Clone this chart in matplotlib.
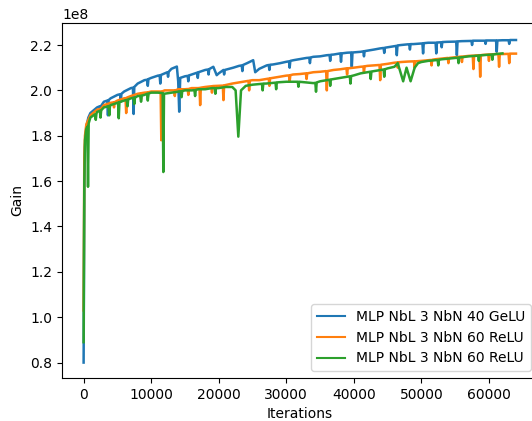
"""Gain vs iterations for three MLP runs."""

import matplotlib
matplotlib.use("Agg")
import matplotlib.pyplot as plt
import numpy as np

# values, gain in units of 1e8
iters_gelu40 = [0, 100, 200, 400, 700, 1000, 2000, 2400, 2500, 2600,
                3000, 3500, 3600, 3700, 4000, 5000, 5400, 5500, 5600, 6000,
                7000, 7300, 7400, 7500, 8000, 9000, 9400, 9500, 9600, 10000,
                11000, 11250, 11350, 11450, 12000, 12400, 12500, 12600, 13000, 13800,
                14000, 14150, 14300, 15000, 15400, 15500, 15600, 16000, 16800, 16900,
                17000, 18000, 18400, 18500, 18600, 19200, 19700, 20000, 20700, 20800,
                20900, 22150, 23000, 23400, 23500, 23600, 24200, 25100, 25400, 26000,
                27100, 27400, 27500, 27600, 28000, 29100, 30000, 30400, 30500, 30600,
                31060, 32000, 33000, 33400, 33500, 33600, 34000, 35000, 36000, 36400,
                36500, 36600, 37000, 38000, 38100, 38200, 39000, 39600, 39700, 39800,
                40200, 41000, 41400, 41500, 41600, 42000, 43000, 43900, 44400, 44500,
                44600, 45000, 46000, 46260, 46360, 46460, 47000, 48000, 48200, 48300,
                48400, 48800, 50000, 50150, 50250, 50350, 51000, 52100, 52200, 52300,
                52900, 53000, 53100, 53750, 55000, 55150, 55250, 55350, 56000, 57000,
                57400, 57500, 57600, 58700, 59400, 59500, 59600, 60000, 61050, 61150,
                61250, 62000, 62900, 63000, 63100, 64000]
gain_gelu40 = [0.80, 1.55, 1.75, 1.84, 1.88, 1.90, 1.925, 1.93, 1.91, 1.932,
               1.95, 1.955, 1.89, 1.957, 1.965, 1.98, 1.983, 1.95, 1.985, 1.995,
               2.01, 2.012, 1.896, 2.015, 2.03, 2.045, 2.047, 2.02, 2.05, 2.055,
               2.065, 2.066, 2.03, 2.068, 2.075, 2.08, 2.06, 2.082, 2.095, 2.105,
               2.04, 1.906, 2.055, 2.062, 2.064, 2.04, 2.066, 2.07, 2.078, 2.055,
               2.08, 2.09, 2.092, 2.07, 2.094, 2.104, 2.067, 2.075, 2.09, 2.07,
               2.09, 2.10, 2.108, 2.11, 2.085, 2.112, 2.12, 2.133, 2.08, 2.095,
               2.11, 2.112, 2.09, 2.113, 2.114, 2.12, 2.126, 2.128, 2.10, 2.13,
               2.133, 2.138, 2.143, 2.144, 2.12, 2.145, 2.148, 2.15, 2.155, 2.156,
               2.13, 2.157, 2.158, 2.163, 2.126, 2.163, 2.166, 2.167, 2.104, 2.167,
               2.168, 2.17, 2.172, 2.15, 2.173, 2.175, 2.18, 2.185, 2.187, 2.165,
               2.188, 2.19, 2.195, 2.196, 2.155, 2.198, 2.2, 2.203, 2.203, 2.18,
               2.204, 2.204, 2.207, 2.207, 2.163, 2.208, 2.21, 2.21, 2.163, 2.211,
               2.212, 2.19, 2.213, 2.214, 2.215, 2.215, 2.155, 2.216, 2.217, 2.218,
               2.218, 2.20, 2.219, 2.219, 2.219, 2.205, 2.22, 2.22, 2.22, 2.17,
               2.22, 2.221, 2.221, 2.205, 2.222, 2.222]

iters_relu60_a = [0, 100, 200, 400, 700, 1000, 2000, 2400, 2500, 2600,
                  3000, 4000, 4400, 4500, 4600, 5000, 6000, 6200, 6300, 6400,
                  7000, 8000, 8400, 8500, 8600, 9000, 9400, 9500, 9600, 10000,
                  11000, 11400, 11500, 11600, 12000, 13000, 13400, 13500, 13600, 14000,
                  15000, 15400, 15500, 15600, 16000, 17000, 17150, 17250, 17350, 18000,
                  18900, 19000, 19100, 20000, 20600, 20700, 20800, 22000, 23000, 24000,
                  24400, 24500, 24600, 25000, 26000, 27000, 27400, 27500, 27600, 28000,
                  29000, 30000, 30400, 30500, 30600, 31000, 32000, 32900, 33000, 33100,
                  34000, 35000, 35900, 36000, 36100, 37000, 38000, 38900, 39000, 39100,
                  40000, 41000, 41400, 41500, 41600, 42000, 43000, 43800, 43900, 44000,
                  45000, 46000, 46400, 46500, 46600, 47000, 48000, 48900, 49000, 49100,
                  50000, 51000, 51400, 51500, 51600, 52000, 53000, 53900, 54000, 54100,
                  55000, 55900, 56000, 56100, 57000, 57600, 57700, 57800, 58000, 58600,
                  58700, 58800, 59000, 59900, 60000, 60100, 61000, 61400, 61500, 61600,
                  62000, 62900, 63000, 63100, 64000]
gain_relu60_a = [1.03, 1.70, 1.80, 1.85, 1.87, 1.89, 1.915, 1.918, 1.90, 1.92,
                 1.935, 1.945, 1.947, 1.925, 1.948, 1.955, 1.965, 1.966, 1.90, 1.968,
                 1.975, 1.985, 1.987, 1.96, 1.988, 1.99, 1.991, 1.97, 1.992, 1.995,
                 1.995, 1.995, 1.78, 1.995, 2.0, 2.0, 2.0, 1.975, 2.0, 2.005,
                 2.005, 2.006, 1.98, 2.007, 2.01, 2.01, 2.011, 1.935, 2.012, 2.015,
                 2.018, 1.99, 2.019, 2.02, 2.021, 1.957, 2.022, 2.03, 2.035, 2.04,
                 2.042, 2.00, 2.043, 2.045, 2.045, 2.05, 2.052, 2.02, 2.053, 2.055,
                 2.06, 2.065, 2.066, 2.04, 2.067, 2.07, 2.072, 2.075, 2.05, 2.075,
                 2.08, 2.082, 2.085, 2.0, 2.085, 2.09, 2.093, 2.097, 2.07, 2.097,
                 2.10, 2.104, 2.105, 2.08, 2.106, 2.108, 2.11, 2.112, 2.045, 2.113,
                 2.117, 2.122, 2.123, 2.10, 2.124, 2.125, 2.127, 2.128, 2.10, 2.128,
                 2.13, 2.133, 2.134, 2.11, 2.135, 2.137, 2.14, 2.143, 2.12, 2.143,
                 2.146, 2.149, 2.125, 2.149, 2.152, 2.153, 2.094, 2.153, 2.154, 2.155,
                 2.06, 2.155, 2.156, 2.158, 2.13, 2.158, 2.16, 2.16, 2.104, 2.16,
                 2.16, 2.161, 2.12, 2.162, 2.162]

iters_relu60_b = [0, 100, 200, 400, 550, 650, 750, 1000, 1700, 1800,
                  1900, 2000, 2400, 2500, 2600, 3000, 3700, 3800, 3900, 4000,
                  5000, 5100, 5200, 5300, 6000, 6400, 6500, 6600, 7000, 7400,
                  7500, 7600, 8000, 8400, 8500, 8600, 9000, 9400, 9500, 9600,
                  10000, 11000, 11700, 11800, 11900, 13000, 14000, 14400, 14500, 14600,
                  15000, 16000, 16400, 16500, 16600, 17000, 18000, 19000, 19400, 19500,
                  19600, 20000, 21000, 22000, 22500, 22900, 23300, 24000, 25000, 26000,
                  26400, 26500, 26600, 27000, 28000, 28400, 28500, 28600, 29000, 30000,
                  31000, 31700, 31800, 31900, 33000, 34000, 34300, 34400, 34500, 35000,
                  36000, 36400, 36500, 36600, 37000, 38000, 39000, 39400, 39500, 39600,
                  40000, 41000, 42000, 42400, 42500, 42600, 43000, 44000, 44400, 44500,
                  44600, 45000, 46000, 46500, 47300, 47800, 48400, 49000, 49500, 50000,
                  51000, 52000, 52400, 52500, 52600, 53000, 54000, 55000, 55400, 55500,
                  55600, 56000, 57000, 58000, 58400, 58500, 58600, 59000, 60000, 60400,
                  60500, 60600, 61000, 62000]
gain_relu60_b = [0.89, 1.60, 1.78, 1.83, 1.84, 1.575, 1.855, 1.88, 1.895, 1.87,
                 1.898, 1.905, 1.91, 1.88, 1.912, 1.925, 1.93, 1.89, 1.932, 1.935,
                 1.945, 1.946, 1.877, 1.948, 1.955, 1.958, 1.93, 1.96, 1.965, 1.967,
                 1.94, 1.968, 1.975, 1.976, 1.95, 1.977, 1.98, 1.985, 1.955, 1.986,
                 1.99, 1.99, 1.988, 1.64, 1.985, 1.99, 1.995, 1.996, 1.97, 1.997,
                 2.0, 2.0, 2.001, 1.975, 2.002, 2.005, 2.005, 2.01, 2.01, 1.985,
                 2.01, 2.01, 2.015, 2.015, 2.0, 1.796, 2.0, 2.02, 2.025, 2.028,
                 2.029, 2.00, 2.03, 2.03, 2.033, 2.034, 2.005, 2.035, 2.036, 2.038,
                 2.038, 2.038, 2.016, 2.038, 2.035, 2.032, 2.033, 1.994, 2.035, 2.04,
                 2.045, 2.047, 2.02, 2.048, 2.05, 2.055, 2.06, 2.062, 2.03, 2.063,
                 2.066, 2.075, 2.08, 2.082, 2.05, 2.083, 2.085, 2.09, 2.092, 2.06,
                 2.093, 2.097, 2.104, 2.12, 2.04, 2.10, 2.04, 2.10, 2.12, 2.125,
                 2.13, 2.133, 2.134, 2.11, 2.135, 2.137, 2.14, 2.143, 2.144, 2.12,
                 2.145, 2.146, 2.15, 2.152, 2.153, 2.13, 2.154, 2.155, 2.157, 2.158,
                 2.135, 2.158, 2.16, 2.163]

labels = ["MLP NbL 3 NbN 40 GeLU", "MLP NbL 3 NbN 60 ReLU", "MLP NbL 3 NbN 60 ReLU"]
colors = ["#1f77b4", "#ff7f0e", "#2ca02c"]

series = [(iters_gelu40, gain_gelu40), (iters_relu60_a, gain_relu60_a), (iters_relu60_b, gain_relu60_b)]
for xs, ys in series:
    assert len(xs) == len(ys)

fig = plt.figure(figsize=(5.32, 4.21), dpi=100)
# the reference is cropped on the right, so the axes run past the figure edge
ax = fig.add_axes([62 / 532, 43 / 421, 475.6 / 532, 355 / 421])

for (xs, ys), c, lab in zip(series, colors, labels):
    ax.plot(xs, np.array(ys) * 1e8, color=c, linewidth=1.8, label=lab)

ax.set_ylim(0.732e8, 2.297e8)
ax.set_xlabel("Iterations")
ax.set_ylabel("Gain")
leg = ax.legend(loc="lower right")
for line in leg.get_lines():
    line.set_linewidth(1.5)

plt.savefig("out.png", dpi=100)
plt.close()
